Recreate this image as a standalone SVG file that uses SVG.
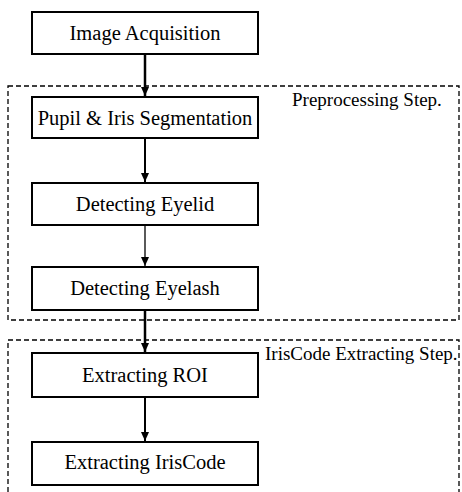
<svg xmlns="http://www.w3.org/2000/svg" width="462" height="492" viewBox="0 0 462 492">
<style>
.box{fill:#fff;stroke:#000;stroke-width:2}
.grp{fill:none;stroke:#000;stroke-width:1.3;stroke-dasharray:5,3}
.t{font-family:"Liberation Serif","Times New Roman",serif;font-size:20.5px;fill:#000;text-anchor:middle}
.lbl{font-family:"Liberation Serif","Times New Roman",serif;font-size:19px;fill:#000}
.c{stroke:#000;fill:none}
</style>
<defs>
<marker id="ah" markerWidth="10" markerHeight="10" refX="9" refY="5" orient="auto" markerUnits="userSpaceOnUse" viewBox="0 0 10 10">
<path d="M0,1 L9,5 L0,9 Z" fill="#000"/>
</marker>
</defs>
<rect x="0" y="0" width="462" height="492" fill="#fff"/>
<g id="preprocessing-group">
<rect class="grp" x="8" y="86" width="451" height="234"/>
<text class="lbl" x="292" y="106">Preprocessing Step.</text>
</g>
<g id="iriscode-group">
<path class="grp" d="M8,492 L8,340 L459,340 L459,492"/>
<text class="lbl" x="265" y="360">IrisCode Extracting Step.</text>
</g>
<g id="connectors">
<path class="c" stroke-width="2.5" d="M145,54 V96" marker-end="url(#ah)"/>
<path class="c" stroke-width="2" d="M145,139 V182" marker-end="url(#ah)"/>
<path class="c" stroke-width="1.3" d="M145,226 V266" marker-end="url(#ah)"/>
<path class="c" stroke-width="2.5" d="M145,311 V352" marker-end="url(#ah)"/>
<path class="c" stroke-width="2" d="M145,398 V441" marker-end="url(#ah)"/>
</g>
<g id="image-acquisition">
<rect class="box" x="32" y="12" width="226" height="42"/>
<text class="t" x="145" y="40">Image Acquisition</text>
</g>
<g id="pupil-iris-segmentation">
<rect class="box" x="32" y="97" width="226" height="41"/>
<text class="t" x="145" y="125">Pupil &amp; Iris Segmentation</text>
</g>
<g id="detecting-eyelid">
<rect class="box" x="32" y="183" width="226" height="42"/>
<text class="t" x="145" y="211">Detecting Eyelid</text>
</g>
<g id="detecting-eyelash">
<rect class="box" x="32" y="267" width="226" height="43"/>
<text class="t" x="145" y="295">Detecting Eyelash</text>
</g>
<g id="extracting-roi">
<rect class="box" x="32" y="353" width="226" height="44"/>
<text class="t" x="145" y="382">Extracting ROI</text>
</g>
<g id="extracting-iriscode">
<rect class="box" x="32" y="442" width="226" height="43"/>
<text class="t" x="145" y="469">Extracting IrisCode</text>
</g>
</svg>
